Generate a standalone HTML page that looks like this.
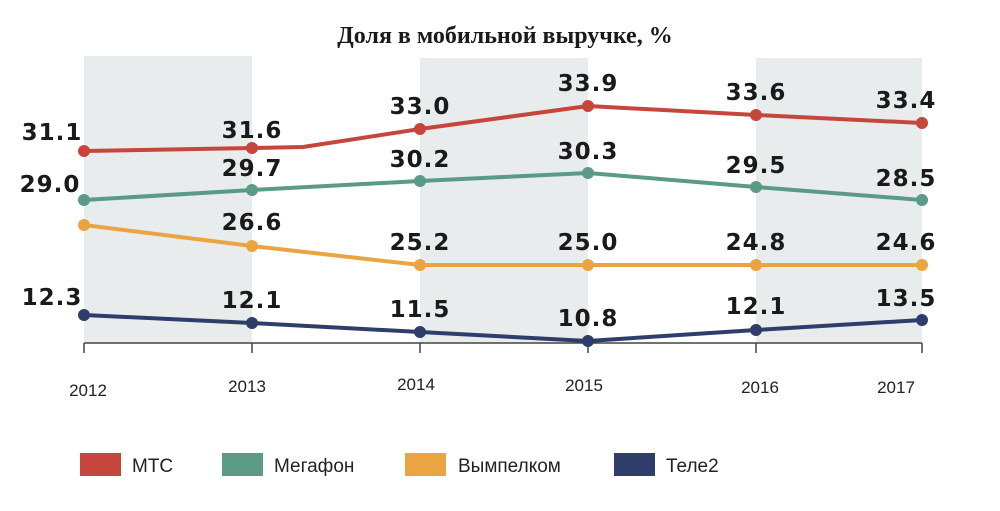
<!DOCTYPE html>
<html><head><meta charset="utf-8"><style>
body{margin:0;background:#fff;}
svg{display:block;font-family:"Liberation Sans",sans-serif;}
.v{font-weight:bold;font-size:23px;fill:#1a1a1a;text-anchor:middle;letter-spacing:1px;font-family:"DejaVu Sans",sans-serif;}
.y{font-size:17px;fill:#222;text-anchor:middle;}
.l{font-size:19px;fill:#222;}
</style></head><body>
<svg width="1000" height="511" viewBox="0 0 1000 511">
<text x="505" y="43" text-anchor="middle" font-size="24" font-weight="bold" font-family="Liberation Serif, serif" fill="#1a1a1a">Доля в мобильной выручке, %</text>
<rect x="84" y="56" width="168" height="287" fill="#e9ecec"/>
<rect x="420" y="58" width="168" height="285" fill="#e9ecec"/>
<rect x="756" y="58" width="166" height="285" fill="#e9ecec"/>
<path d="M84 343H922" stroke="#444" stroke-width="1.5"/>
<g stroke="#444" stroke-width="1.5"><path d="M84 343v10M252 343v10M420 343v10M588 343v10M756 343v10M922 343v10"/></g>
<g fill="none" stroke-width="4" stroke-linejoin="round">
<polyline stroke="#c5463c" points="84,151 252,148 303,147 420,129 588,106 756,115 922,123"/>
<polyline stroke="#5a9a86" points="84,200 252,190 420,181 588,173 756,187 922,200"/>
<polyline stroke="#eaa441" points="84,225 252,246 420,265 588,265 756,265 922,265"/>
<polyline stroke="#2f3d6b" points="84,315 252,323 420,332 588,341 756,330 922,320"/>
</g>
<g fill="#c5463c"><circle cx="84" cy="151" r="6"/><circle cx="252" cy="148" r="6"/><circle cx="420" cy="129" r="6"/><circle cx="588" cy="106" r="6"/><circle cx="756" cy="115" r="6"/><circle cx="922" cy="123" r="6"/></g>
<g fill="#5a9a86"><circle cx="84" cy="200" r="6"/><circle cx="252" cy="190" r="6"/><circle cx="420" cy="181" r="6"/><circle cx="588" cy="173" r="6"/><circle cx="756" cy="187" r="6"/><circle cx="922" cy="200" r="6"/></g>
<g fill="#eaa441"><circle cx="84" cy="225" r="6"/><circle cx="252" cy="246" r="6"/><circle cx="420" cy="265" r="6"/><circle cx="588" cy="265" r="6"/><circle cx="756" cy="265" r="6"/><circle cx="922" cy="265" r="6"/></g>
<g fill="#2f3d6b"><circle cx="84" cy="315" r="6"/><circle cx="252" cy="323" r="6"/><circle cx="420" cy="332" r="6"/><circle cx="588" cy="341" r="6"/><circle cx="756" cy="330" r="6"/><circle cx="922" cy="320" r="6"/></g>
<g class="v">
<text x="52" y="140">31.1</text><text x="252" y="138">31.6</text><text x="420" y="114">33.0</text><text x="588" y="91">33.9</text><text x="756" y="100">33.6</text><text x="906" y="108">33.4</text>
<text x="50" y="192">29.0</text><text x="252" y="176">29.7</text><text x="420" y="167">30.2</text><text x="588" y="159">30.3</text><text x="756" y="173">29.5</text><text x="906" y="186">28.5</text>
<text x="252" y="230">26.6</text><text x="420" y="250">25.2</text><text x="588" y="250">25.0</text><text x="756" y="250">24.8</text><text x="906" y="250">24.6</text>
<text x="52" y="305">12.3</text><text x="252" y="308">12.1</text><text x="420" y="317">11.5</text><text x="588" y="326">10.8</text><text x="756" y="314">12.1</text><text x="906" y="306">13.5</text>
</g>
<g class="y"><text x="88" y="396">2012</text><text x="247" y="392">2013</text><text x="416" y="390">2014</text><text x="584" y="391">2015</text><text x="760" y="393">2016</text><text x="896" y="393">2017</text></g>
<rect x="80" y="453" width="41" height="23" fill="#c5463c"/><text class="l" x="132" y="472">МТС</text>
<rect x="222" y="453" width="41" height="23" fill="#5a9a86"/><text class="l" x="274" y="472">Мегафон</text>
<rect x="405" y="453" width="41" height="23" fill="#eaa441"/><text class="l" x="458" y="472">Вымпелком</text>
<rect x="614" y="453" width="41" height="23" fill="#2f3d6b"/><text class="l" x="666" y="472">Теле2</text>
</svg>
</body></html>
